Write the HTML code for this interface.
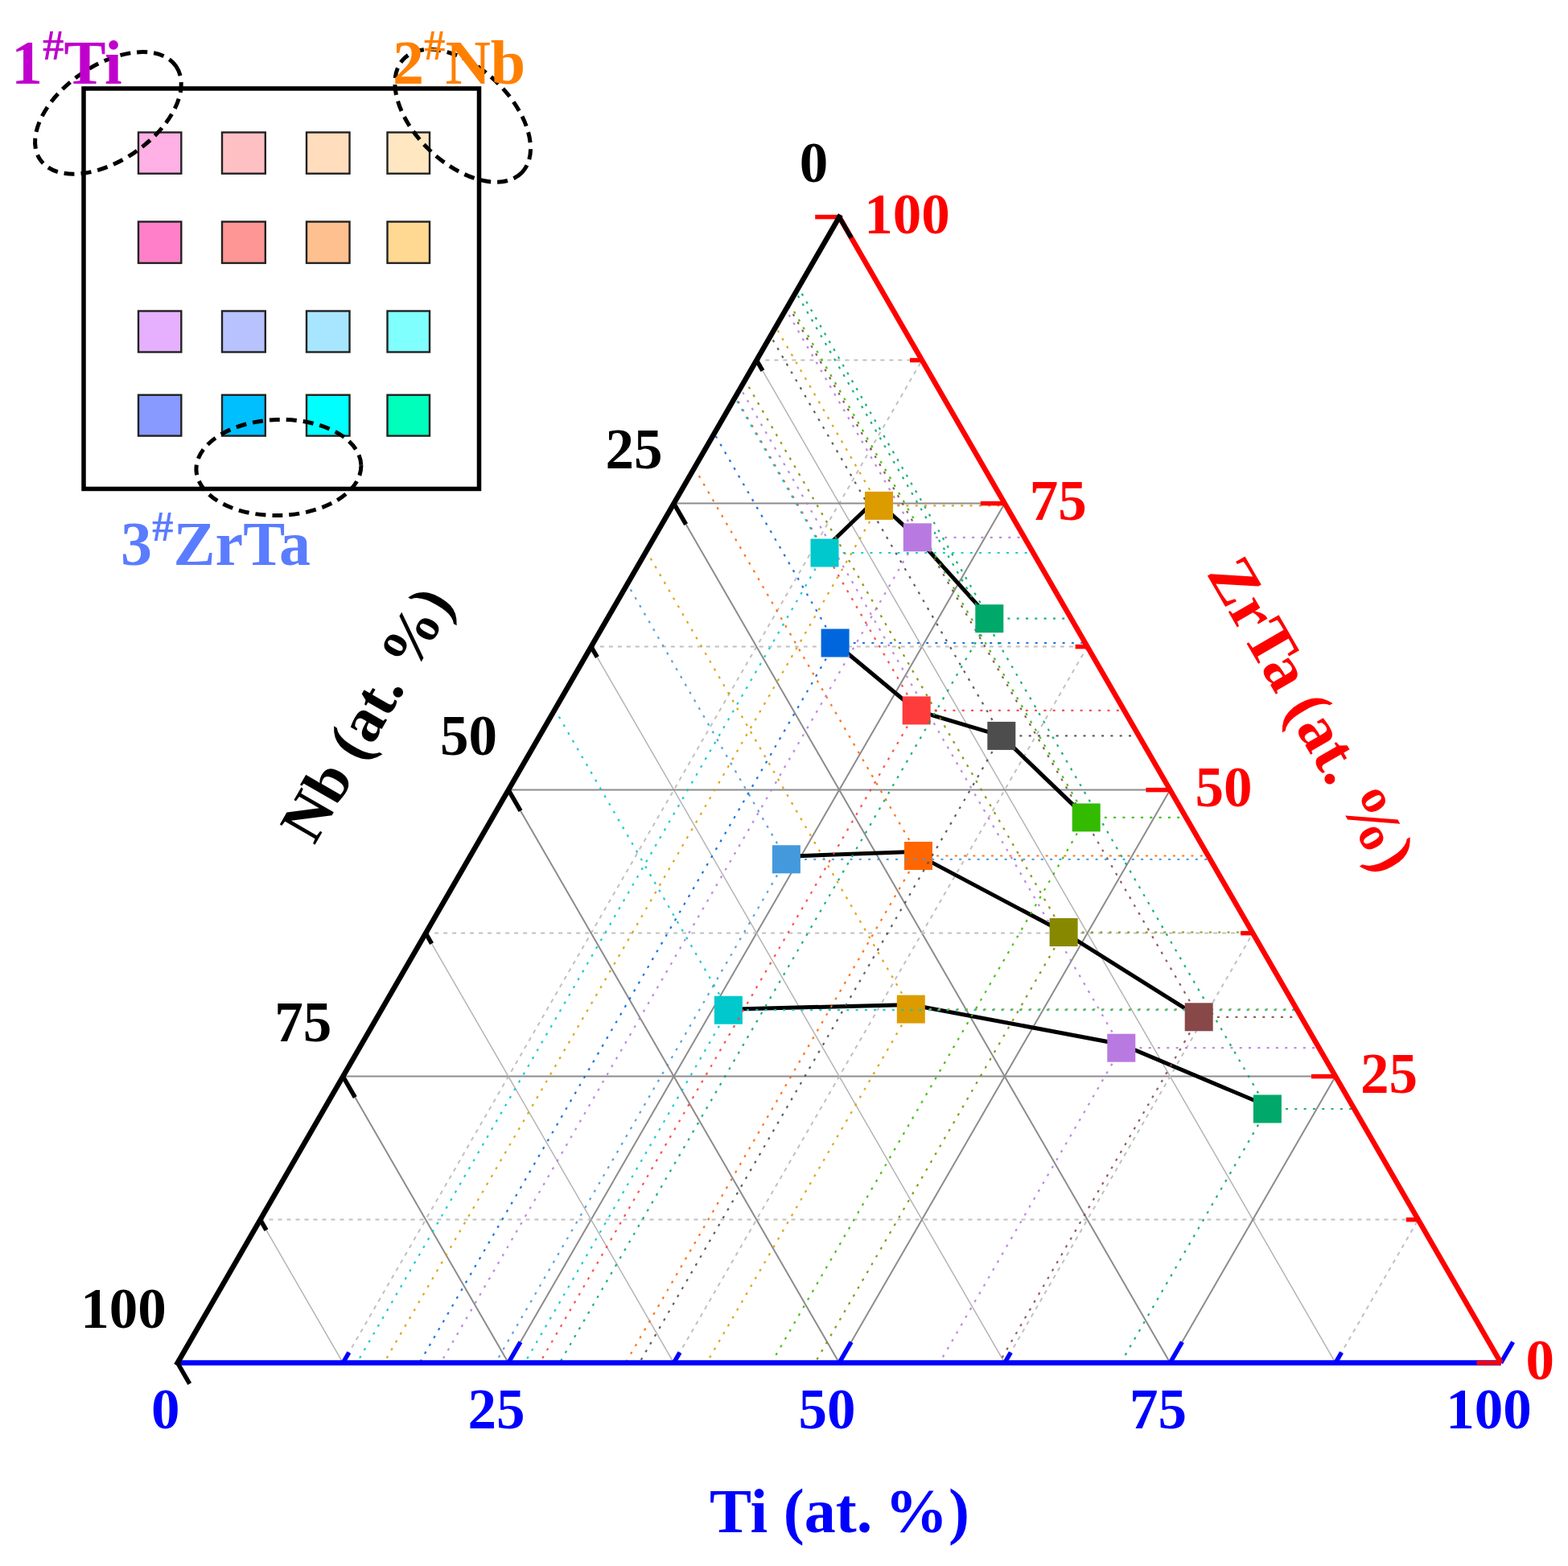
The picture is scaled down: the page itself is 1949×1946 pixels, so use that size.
<!DOCTYPE html>
<html><head><meta charset="utf-8"><style>html,body{margin:0;padding:0;background:#fff;}svg{display:block;}</style></head>
<body>
<svg width="1949" height="1946" viewBox="0 0 1949 1946">
<rect width="100%" height="100%" fill="#fff"/>
<line x1="323.5" y1="1515.6" x2="1762.8" y2="1515.6" stroke="#c0c0c0" stroke-width="2" stroke-dasharray="5 6"/>
<line x1="426.3" y1="1693.6" x2="1146.0" y2="447.6" stroke="#c0c0c0" stroke-width="2" stroke-dasharray="5 6"/>
<line x1="1660.0" y1="1693.6" x2="940.4" y2="447.6" stroke="#b4b4b4" stroke-width="1.5"/>
<line x1="426.3" y1="1337.6" x2="1660.0" y2="1337.6" stroke="#8c8c8c" stroke-width="2"/>
<line x1="631.9" y1="1693.6" x2="1248.8" y2="625.6" stroke="#8c8c8c" stroke-width="2"/>
<line x1="1454.4" y1="1693.6" x2="837.6" y2="625.6" stroke="#8c8c8c" stroke-width="2"/>
<line x1="529.1" y1="1159.6" x2="1557.2" y2="1159.6" stroke="#c0c0c0" stroke-width="2" stroke-dasharray="5 6"/>
<line x1="837.5" y1="1693.6" x2="1351.6" y2="803.6" stroke="#c0c0c0" stroke-width="2" stroke-dasharray="5 6"/>
<line x1="1248.8" y1="1693.6" x2="734.8" y2="803.6" stroke="#b4b4b4" stroke-width="1.5"/>
<line x1="632.0" y1="981.6" x2="1454.4" y2="981.6" stroke="#8c8c8c" stroke-width="2"/>
<line x1="1043.1" y1="1693.6" x2="1454.4" y2="981.6" stroke="#8c8c8c" stroke-width="2"/>
<line x1="1043.1" y1="1693.6" x2="632.0" y2="981.6" stroke="#8c8c8c" stroke-width="2"/>
<line x1="734.8" y1="803.6" x2="1351.6" y2="803.6" stroke="#c0c0c0" stroke-width="2" stroke-dasharray="5 6"/>
<line x1="1248.8" y1="1693.6" x2="1557.2" y2="1159.6" stroke="#c0c0c0" stroke-width="2" stroke-dasharray="5 6"/>
<line x1="837.5" y1="1693.6" x2="529.1" y2="1159.6" stroke="#b4b4b4" stroke-width="1.5"/>
<line x1="837.6" y1="625.6" x2="1248.8" y2="625.6" stroke="#8c8c8c" stroke-width="2"/>
<line x1="1454.4" y1="1693.6" x2="1660.0" y2="1337.6" stroke="#8c8c8c" stroke-width="2"/>
<line x1="631.9" y1="1693.6" x2="426.3" y2="1337.6" stroke="#8c8c8c" stroke-width="2"/>
<line x1="940.4" y1="447.6" x2="1146.0" y2="447.6" stroke="#c0c0c0" stroke-width="2" stroke-dasharray="5 6"/>
<line x1="1660.0" y1="1693.6" x2="1762.8" y2="1515.6" stroke="#c0c0c0" stroke-width="2" stroke-dasharray="5 6"/>
<line x1="426.3" y1="1693.6" x2="323.5" y2="1515.6" stroke="#b4b4b4" stroke-width="1.5"/>
<polyline points="1025.0,682.0 1088.4,620.9 1140.3,668.5 1229.8,768.2" fill="none" stroke="#000" stroke-width="5"/>
<polyline points="1038.1,799.0 1139.2,882.9 1244.8,914.4 1350.2,1015.9" fill="none" stroke="#000" stroke-width="5"/>
<polyline points="977.4,1064.2 1133.1,1058.4 1322.1,1158.5 1490.2,1263.8" fill="none" stroke="#000" stroke-width="5"/>
<polyline points="905.4,1254.2 1132.3,1248.5 1393.8,1297.7 1575.4,1374.3" fill="none" stroke="#000" stroke-width="5"/>
<line x1="1575.4" y1="1378.0" x2="1683.3" y2="1378.0" stroke="#00a86a" stroke-width="2.2" stroke-dasharray="3 8.3" stroke-opacity="0.9"/>
<line x1="1575.4" y1="1378.0" x2="1393.1" y2="1693.6" stroke="#00a86a" stroke-width="2.2" stroke-dasharray="3 8.3" stroke-opacity="0.9"/>
<line x1="1575.4" y1="1378.0" x2="989.2" y2="363.0" stroke="#00a86a" stroke-width="2.2" stroke-dasharray="3 8.3" stroke-opacity="0.9"/>
<rect x="1557.9" y="1360.5" width="35" height="35" fill="#00a86a"/>
<line x1="1393.8" y1="1302.2" x2="1639.6" y2="1302.2" stroke="#b87ae0" stroke-width="2.2" stroke-dasharray="3 8.3" stroke-opacity="0.9"/>
<line x1="1393.8" y1="1302.2" x2="1167.7" y2="1693.6" stroke="#b87ae0" stroke-width="2.2" stroke-dasharray="3 8.3" stroke-opacity="0.9"/>
<line x1="1393.8" y1="1302.2" x2="920.3" y2="482.4" stroke="#b87ae0" stroke-width="2.2" stroke-dasharray="3 8.3" stroke-opacity="0.9"/>
<rect x="1376.3" y="1284.7" width="35" height="35" fill="#b87ae0"/>
<line x1="1132.3" y1="1254.1" x2="1611.8" y2="1254.1" stroke="#dc9c00" stroke-width="2.2" stroke-dasharray="3 8.3" stroke-opacity="0.9"/>
<line x1="1132.3" y1="1254.1" x2="878.4" y2="1693.6" stroke="#dc9c00" stroke-width="2.2" stroke-dasharray="3 8.3" stroke-opacity="0.9"/>
<line x1="1132.3" y1="1254.1" x2="803.4" y2="684.7" stroke="#dc9c00" stroke-width="2.2" stroke-dasharray="3 8.3" stroke-opacity="0.9"/>
<rect x="1114.8" y="1236.6" width="35" height="35" fill="#dc9c00"/>
<line x1="905.4" y1="1255.2" x2="1612.4" y2="1255.2" stroke="#00c8cc" stroke-width="2.2" stroke-dasharray="3 8.3" stroke-opacity="0.9"/>
<line x1="905.4" y1="1255.2" x2="652.2" y2="1693.6" stroke="#00c8cc" stroke-width="2.2" stroke-dasharray="3 8.3" stroke-opacity="0.9"/>
<line x1="905.4" y1="1255.2" x2="689.7" y2="881.7" stroke="#00c8cc" stroke-width="2.2" stroke-dasharray="3 8.3" stroke-opacity="0.9"/>
<rect x="887.9" y="1237.7" width="35" height="35" fill="#00c8cc"/>
<line x1="1490.2" y1="1263.8" x2="1617.4" y2="1263.8" stroke="#884848" stroke-width="2.2" stroke-dasharray="3 8.3" stroke-opacity="0.9"/>
<line x1="1490.2" y1="1263.8" x2="1241.9" y2="1693.6" stroke="#884848" stroke-width="2.2" stroke-dasharray="3 8.3" stroke-opacity="0.9"/>
<line x1="1490.2" y1="1263.8" x2="979.6" y2="379.7" stroke="#884848" stroke-width="2.2" stroke-dasharray="3 8.3" stroke-opacity="0.9"/>
<rect x="1472.7" y="1246.3" width="35" height="35" fill="#884848"/>
<line x1="1322.1" y1="1158.5" x2="1556.6" y2="1158.5" stroke="#888800" stroke-width="2.2" stroke-dasharray="3 8.3" stroke-opacity="0.9"/>
<line x1="1322.1" y1="1158.5" x2="1013.0" y2="1693.6" stroke="#888800" stroke-width="2.2" stroke-dasharray="3 8.3" stroke-opacity="0.9"/>
<line x1="1322.1" y1="1158.5" x2="926.0" y2="472.6" stroke="#888800" stroke-width="2.2" stroke-dasharray="3 8.3" stroke-opacity="0.9"/>
<rect x="1304.6" y="1141.0" width="35" height="35" fill="#888800"/>
<line x1="1141.5" y1="1063.5" x2="1501.7" y2="1063.5" stroke="#ff6600" stroke-width="2.2" stroke-dasharray="3 8.3" stroke-opacity="0.9"/>
<line x1="1141.5" y1="1063.5" x2="777.6" y2="1693.6" stroke="#ff6600" stroke-width="2.2" stroke-dasharray="3 8.3" stroke-opacity="0.9"/>
<line x1="1141.5" y1="1063.5" x2="863.1" y2="581.4" stroke="#ff6600" stroke-width="2.2" stroke-dasharray="3 8.3" stroke-opacity="0.9"/>
<rect x="1124.0" y="1046.0" width="35" height="35" fill="#ff6600"/>
<line x1="977.4" y1="1067.8" x2="1504.2" y2="1067.8" stroke="#4499dd" stroke-width="2.2" stroke-dasharray="3 8.3" stroke-opacity="0.9"/>
<line x1="977.4" y1="1067.8" x2="615.9" y2="1693.6" stroke="#4499dd" stroke-width="2.2" stroke-dasharray="3 8.3" stroke-opacity="0.9"/>
<line x1="977.4" y1="1067.8" x2="779.8" y2="725.6" stroke="#4499dd" stroke-width="2.2" stroke-dasharray="3 8.3" stroke-opacity="0.9"/>
<rect x="959.9" y="1050.3" width="35" height="35" fill="#4499dd"/>
<line x1="1350.2" y1="1015.9" x2="1474.2" y2="1015.9" stroke="#33bb00" stroke-width="2.2" stroke-dasharray="3 8.3" stroke-opacity="0.9"/>
<line x1="1350.2" y1="1015.9" x2="958.8" y2="1693.6" stroke="#33bb00" stroke-width="2.2" stroke-dasharray="3 8.3" stroke-opacity="0.9"/>
<line x1="1350.2" y1="1015.9" x2="981.2" y2="377.0" stroke="#33bb00" stroke-width="2.2" stroke-dasharray="3 8.3" stroke-opacity="0.9"/>
<rect x="1332.7" y="998.4" width="35" height="35" fill="#33bb00"/>
<line x1="1244.8" y1="914.4" x2="1415.6" y2="914.4" stroke="#4d4d4d" stroke-width="2.2" stroke-dasharray="3 8.3" stroke-opacity="0.9"/>
<line x1="1244.8" y1="914.4" x2="794.7" y2="1693.6" stroke="#4d4d4d" stroke-width="2.2" stroke-dasharray="3 8.3" stroke-opacity="0.9"/>
<line x1="1244.8" y1="914.4" x2="957.8" y2="417.5" stroke="#4d4d4d" stroke-width="2.2" stroke-dasharray="3 8.3" stroke-opacity="0.9"/>
<rect x="1227.3" y="896.9" width="35" height="35" fill="#4d4d4d"/>
<line x1="1139.2" y1="882.9" x2="1397.4" y2="882.9" stroke="#ff3c3c" stroke-width="2.2" stroke-dasharray="3 8.3" stroke-opacity="0.9"/>
<line x1="1139.2" y1="882.9" x2="670.9" y2="1693.6" stroke="#ff3c3c" stroke-width="2.2" stroke-dasharray="3 8.3" stroke-opacity="0.9"/>
<line x1="1139.2" y1="882.9" x2="914.1" y2="493.1" stroke="#ff3c3c" stroke-width="2.2" stroke-dasharray="3 8.3" stroke-opacity="0.9"/>
<rect x="1121.7" y="865.4" width="35" height="35" fill="#ff3c3c"/>
<line x1="1038.1" y1="799.0" x2="1348.9" y2="799.0" stroke="#0066dd" stroke-width="2.2" stroke-dasharray="3 8.3" stroke-opacity="0.9"/>
<line x1="1038.1" y1="799.0" x2="521.4" y2="1693.6" stroke="#0066dd" stroke-width="2.2" stroke-dasharray="3 8.3" stroke-opacity="0.9"/>
<line x1="1038.1" y1="799.0" x2="887.8" y2="538.7" stroke="#0066dd" stroke-width="2.2" stroke-dasharray="3 8.3" stroke-opacity="0.9"/>
<rect x="1020.6" y="781.5" width="35" height="35" fill="#0066dd"/>
<line x1="1229.8" y1="768.7" x2="1331.4" y2="768.7" stroke="#00a86a" stroke-width="2.2" stroke-dasharray="3 8.3" stroke-opacity="0.9"/>
<line x1="1229.8" y1="768.7" x2="695.6" y2="1693.6" stroke="#00a86a" stroke-width="2.2" stroke-dasharray="3 8.3" stroke-opacity="0.9"/>
<line x1="1229.8" y1="768.7" x2="992.4" y2="357.6" stroke="#00a86a" stroke-width="2.2" stroke-dasharray="3 8.3" stroke-opacity="0.9"/>
<rect x="1212.3" y="751.2" width="35" height="35" fill="#00a86a"/>
<line x1="1140.3" y1="667.8" x2="1273.2" y2="667.8" stroke="#b87ae0" stroke-width="2.2" stroke-dasharray="3 8.3" stroke-opacity="0.9"/>
<line x1="1140.3" y1="667.8" x2="547.8" y2="1693.6" stroke="#b87ae0" stroke-width="2.2" stroke-dasharray="3 8.3" stroke-opacity="0.9"/>
<line x1="1140.3" y1="667.8" x2="976.8" y2="384.6" stroke="#b87ae0" stroke-width="2.2" stroke-dasharray="3 8.3" stroke-opacity="0.9"/>
<rect x="1122.8" y="650.3" width="35" height="35" fill="#b87ae0"/>
<line x1="1092.5" y1="628.4" x2="1250.4" y2="628.4" stroke="#dc9c00" stroke-width="2.2" stroke-dasharray="3 8.3" stroke-opacity="0.9"/>
<line x1="1092.5" y1="628.4" x2="477.2" y2="1693.6" stroke="#dc9c00" stroke-width="2.2" stroke-dasharray="3 8.3" stroke-opacity="0.9"/>
<line x1="1092.5" y1="628.4" x2="964.2" y2="406.3" stroke="#dc9c00" stroke-width="2.2" stroke-dasharray="3 8.3" stroke-opacity="0.9"/>
<rect x="1075.0" y="610.9" width="35" height="35" fill="#dc9c00"/>
<line x1="1025.0" y1="687.0" x2="1284.3" y2="687.0" stroke="#00c8cc" stroke-width="2.2" stroke-dasharray="3 8.3" stroke-opacity="0.9"/>
<line x1="1025.0" y1="687.0" x2="443.6" y2="1693.6" stroke="#00c8cc" stroke-width="2.2" stroke-dasharray="3 8.3" stroke-opacity="0.9"/>
<line x1="1025.0" y1="687.0" x2="913.6" y2="494.0" stroke="#00c8cc" stroke-width="2.2" stroke-dasharray="3 8.3" stroke-opacity="0.9"/>
<rect x="1007.5" y="669.5" width="35" height="35" fill="#00c8cc"/>
<line x1="220.7" y1="1693.6" x2="1865.6" y2="1693.6" stroke="#0000ff" stroke-width="6.5"/>
<line x1="220.7" y1="1693.6" x2="235.7" y2="1667.6" stroke="#0000ff" stroke-width="5.5"/>
<line x1="426.3" y1="1693.6" x2="433.8" y2="1680.6" stroke="#0000ff" stroke-width="5.5"/>
<line x1="631.9" y1="1693.6" x2="646.9" y2="1667.6" stroke="#0000ff" stroke-width="5.5"/>
<line x1="837.5" y1="1693.6" x2="845.0" y2="1680.6" stroke="#0000ff" stroke-width="5.5"/>
<line x1="1043.1" y1="1693.6" x2="1058.1" y2="1667.6" stroke="#0000ff" stroke-width="5.5"/>
<line x1="1248.8" y1="1693.6" x2="1256.3" y2="1680.6" stroke="#0000ff" stroke-width="5.5"/>
<line x1="1454.4" y1="1693.6" x2="1469.4" y2="1667.6" stroke="#0000ff" stroke-width="5.5"/>
<line x1="1660.0" y1="1693.6" x2="1667.5" y2="1680.6" stroke="#0000ff" stroke-width="5.5"/>
<line x1="1865.6" y1="1693.6" x2="1880.6" y2="1667.6" stroke="#0000ff" stroke-width="5.5"/>
<line x1="1865.6" y1="1693.6" x2="1043.2" y2="269.6" stroke="#ff0000" stroke-width="6.5"/>
<line x1="1865.6" y1="1693.6" x2="1835.6" y2="1693.6" stroke="#ff0000" stroke-width="5.5"/>
<line x1="1762.8" y1="1515.6" x2="1747.8" y2="1515.6" stroke="#ff0000" stroke-width="5.5"/>
<line x1="1660.0" y1="1337.6" x2="1630.0" y2="1337.6" stroke="#ff0000" stroke-width="5.5"/>
<line x1="1557.2" y1="1159.6" x2="1542.2" y2="1159.6" stroke="#ff0000" stroke-width="5.5"/>
<line x1="1454.4" y1="981.6" x2="1424.4" y2="981.6" stroke="#ff0000" stroke-width="5.5"/>
<line x1="1351.6" y1="803.6" x2="1336.6" y2="803.6" stroke="#ff0000" stroke-width="5.5"/>
<line x1="1248.8" y1="625.6" x2="1218.8" y2="625.6" stroke="#ff0000" stroke-width="5.5"/>
<line x1="1146.0" y1="447.6" x2="1131.0" y2="447.6" stroke="#ff0000" stroke-width="5.5"/>
<line x1="1043.2" y1="269.6" x2="1013.2" y2="269.6" stroke="#ff0000" stroke-width="5.5"/>
<line x1="1043.2" y1="269.6" x2="220.7" y2="1693.6" stroke="#000" stroke-width="6.5" stroke-linecap="square"/>
<line x1="1043.2" y1="269.6" x2="1058.2" y2="295.6" stroke="#000" stroke-width="5.5"/>
<line x1="940.4" y1="447.6" x2="947.9" y2="460.6" stroke="#000" stroke-width="5.5"/>
<line x1="837.6" y1="625.6" x2="852.6" y2="651.6" stroke="#000" stroke-width="5.5"/>
<line x1="734.8" y1="803.6" x2="742.3" y2="816.6" stroke="#000" stroke-width="5.5"/>
<line x1="632.0" y1="981.6" x2="647.0" y2="1007.6" stroke="#000" stroke-width="5.5"/>
<line x1="529.1" y1="1159.6" x2="536.6" y2="1172.6" stroke="#000" stroke-width="5.5"/>
<line x1="426.3" y1="1337.6" x2="441.3" y2="1363.6" stroke="#000" stroke-width="5.5"/>
<line x1="323.5" y1="1515.6" x2="331.0" y2="1528.6" stroke="#000" stroke-width="5.5"/>
<line x1="220.7" y1="1693.6" x2="235.7" y2="1719.6" stroke="#000" stroke-width="5.5"/>
<text x="205.7" y="1775" text-anchor="middle" font-size="71" fill="#0000ff" font-family="Liberation Serif, Times New Roman, serif" font-weight="bold">0</text>
<text x="616.9" y="1775" text-anchor="middle" font-size="71" fill="#0000ff" font-family="Liberation Serif, Times New Roman, serif" font-weight="bold">25</text>
<text x="1028.1" y="1775" text-anchor="middle" font-size="71" fill="#0000ff" font-family="Liberation Serif, Times New Roman, serif" font-weight="bold">50</text>
<text x="1439.4" y="1775" text-anchor="middle" font-size="71" fill="#0000ff" font-family="Liberation Serif, Times New Roman, serif" font-weight="bold">75</text>
<text x="1850.6" y="1775" text-anchor="middle" font-size="71" fill="#0000ff" font-family="Liberation Serif, Times New Roman, serif" font-weight="bold">100</text>
<text x="1029.2" y="225.6" text-anchor="end" font-size="71" fill="#000" font-family="Liberation Serif, Times New Roman, serif" font-weight="bold">0</text>
<text x="823.6" y="581.6" text-anchor="end" font-size="71" fill="#000" font-family="Liberation Serif, Times New Roman, serif" font-weight="bold">25</text>
<text x="618.0" y="937.6" text-anchor="end" font-size="71" fill="#000" font-family="Liberation Serif, Times New Roman, serif" font-weight="bold">50</text>
<text x="412.3" y="1293.6" text-anchor="end" font-size="71" fill="#000" font-family="Liberation Serif, Times New Roman, serif" font-weight="bold">75</text>
<text x="206.7" y="1649.6" text-anchor="end" font-size="71" fill="#000" font-family="Liberation Serif, Times New Roman, serif" font-weight="bold">100</text>
<text x="1074.2" y="290.1" text-anchor="start" font-size="71" fill="#ff0000" font-family="Liberation Serif, Times New Roman, serif" font-weight="bold">100</text>
<text x="1279.8" y="646.1" text-anchor="start" font-size="71" fill="#ff0000" font-family="Liberation Serif, Times New Roman, serif" font-weight="bold">75</text>
<text x="1485.4" y="1002.1" text-anchor="start" font-size="71" fill="#ff0000" font-family="Liberation Serif, Times New Roman, serif" font-weight="bold">50</text>
<text x="1691.0" y="1358.1" text-anchor="start" font-size="71" fill="#ff0000" font-family="Liberation Serif, Times New Roman, serif" font-weight="bold">25</text>
<text x="1896.6" y="1714.1" text-anchor="start" font-size="71" fill="#ff0000" font-family="Liberation Serif, Times New Roman, serif" font-weight="bold">0</text>
<text x="881.9" y="1903.6" font-size="78" fill="#0000ff" font-family="Liberation Serif, Times New Roman, serif" font-weight="bold">Ti (at. <tspan x="1100">%</tspan><tspan x="1179">)</tspan></text>
<text transform="translate(478 900) rotate(-60)" text-anchor="middle" font-size="77" fill="#000" font-family="Liberation Serif, Times New Roman, serif" font-weight="bold">Nb (at. %)</text>
<text transform="translate(1607.8 900.6) rotate(60)" text-anchor="middle" font-size="80" fill="#ff0000" font-family="Liberation Serif, Times New Roman, serif" font-weight="bold">ZrTa (at. %)</text>
<rect x="104" y="110" width="491.5" height="497.5" fill="none" stroke="#000" stroke-width="5.5"/>
<rect x="172.0" y="164.5" width="53.3" height="51.2" fill="#ffb0e4" stroke="#222" stroke-width="2.4"/>
<rect x="276.0" y="164.5" width="53.8" height="51.2" fill="#ffc0c4" stroke="#222" stroke-width="2.4"/>
<rect x="381.0" y="164.5" width="53.5" height="51.2" fill="#ffddbd" stroke="#222" stroke-width="2.4"/>
<rect x="481.5" y="164.5" width="52.5" height="51.2" fill="#ffe7c2" stroke="#222" stroke-width="2.4"/>
<rect x="172.0" y="275.5" width="53.3" height="51.4" fill="#ff80c8" stroke="#222" stroke-width="2.4"/>
<rect x="276.0" y="275.5" width="53.8" height="51.4" fill="#ff9696" stroke="#222" stroke-width="2.4"/>
<rect x="381.0" y="275.5" width="53.5" height="51.4" fill="#ffc090" stroke="#222" stroke-width="2.4"/>
<rect x="481.5" y="275.5" width="52.5" height="51.4" fill="#ffd892" stroke="#222" stroke-width="2.4"/>
<rect x="172.0" y="386.5" width="53.3" height="51.0" fill="#e6b0ff" stroke="#222" stroke-width="2.4"/>
<rect x="276.0" y="386.5" width="53.8" height="51.0" fill="#b8c2ff" stroke="#222" stroke-width="2.4"/>
<rect x="381.0" y="386.5" width="53.5" height="51.0" fill="#a8e6ff" stroke="#222" stroke-width="2.4"/>
<rect x="481.5" y="386.5" width="52.5" height="51.0" fill="#80ffff" stroke="#222" stroke-width="2.4"/>
<rect x="172.0" y="490.8" width="53.3" height="50.8" fill="#8899ff" stroke="#222" stroke-width="2.4"/>
<rect x="276.0" y="490.8" width="53.8" height="50.8" fill="#00bfff" stroke="#222" stroke-width="2.4"/>
<rect x="381.0" y="490.8" width="53.5" height="50.8" fill="#00ffff" stroke="#222" stroke-width="2.4"/>
<rect x="481.5" y="490.8" width="52.5" height="50.8" fill="#00ffbb" stroke="#222" stroke-width="2.4"/>
<ellipse cx="134.4" cy="140.4" rx="102.5" ry="59.1" transform="rotate(-34.5 134.4 140.4)" fill="none" stroke="#000" stroke-width="5" stroke-dasharray="13 8"/>
<ellipse cx="575.2" cy="143.8" rx="101.9" ry="59.4" transform="rotate(43.7 575.2 143.8)" fill="none" stroke="#000" stroke-width="5" stroke-dasharray="13 8"/>
<ellipse cx="346.4" cy="581" rx="102.5" ry="59.5" transform="rotate(-1.6 346.4 581)" fill="none" stroke="#000" stroke-width="5" stroke-dasharray="13 8"/>
<text x="14" y="104.4" fill="#c000cc" font-family="Liberation Serif, Times New Roman, serif" font-weight="bold" font-size="78">1<tspan font-size="53" dy="-30.5">#</tspan><tspan dy="30.5">Ti</tspan></text>
<text x="488" y="104.4" fill="#ff8000" font-family="Liberation Serif, Times New Roman, serif" font-weight="bold" font-size="78">2<tspan font-size="53" dy="-30.5">#</tspan><tspan dy="30.5">Nb</tspan></text>
<text x="150" y="702" fill="#5a7cff" font-family="Liberation Serif, Times New Roman, serif" font-weight="bold" font-size="78">3<tspan font-size="53" dy="-30.5">#</tspan><tspan dy="30.5">ZrTa</tspan></text>
</svg>
</body></html>
